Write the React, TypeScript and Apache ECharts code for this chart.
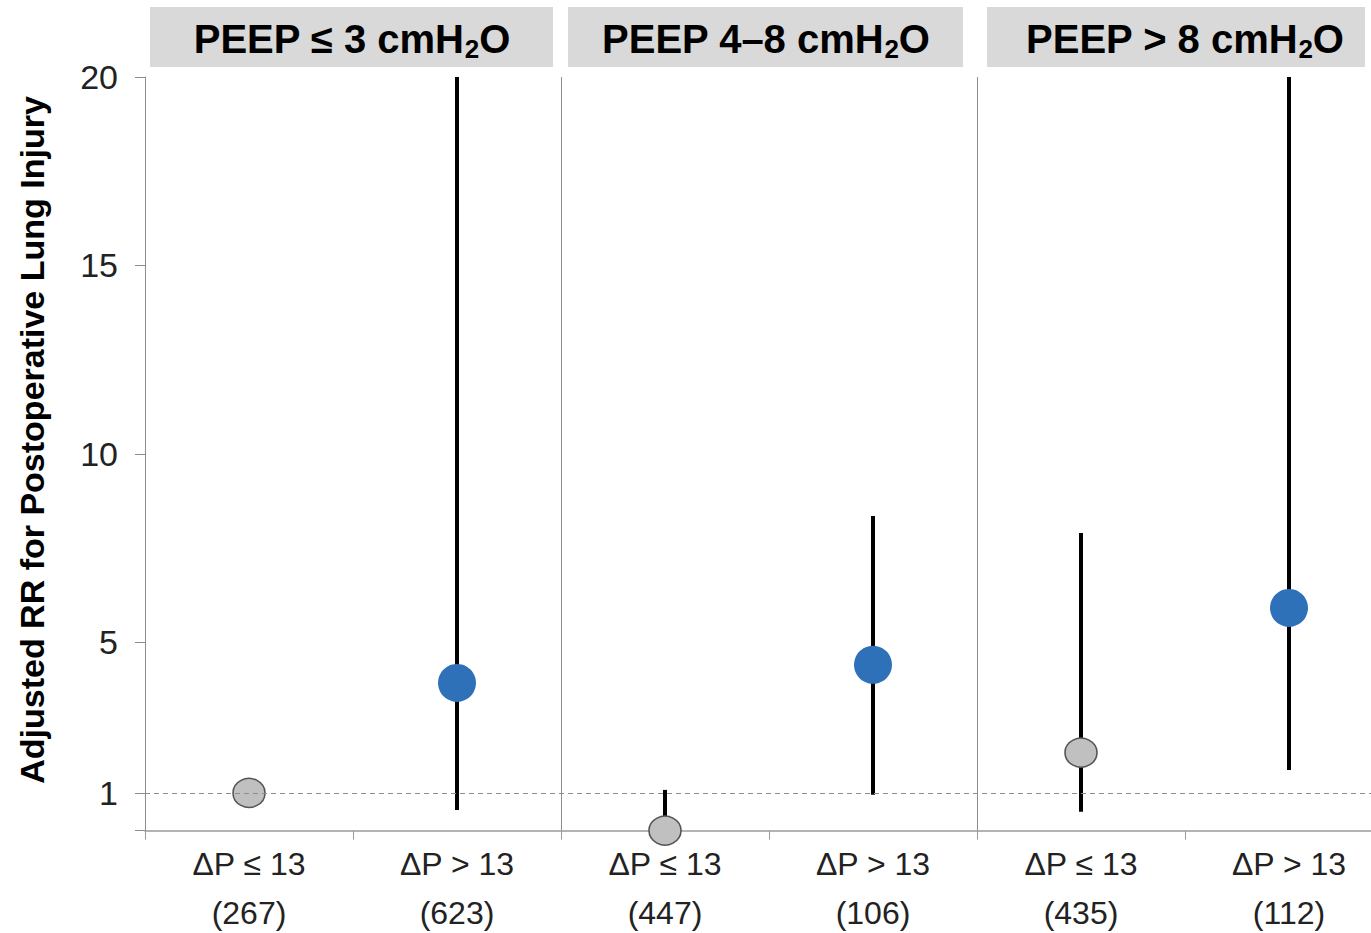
import React, { useEffect, useRef } from "react";
import * as echarts from "echarts";

const categories = ["ΔP ≤ 13", "ΔP > 13", "ΔP ≤ 13", "ΔP > 13", "ΔP ≤ 13", "ΔP > 13"];
const sampleSizes = [267, 623, 447, 106, 435, 112];
const groups = ["low", "high", "low", "high", "low", "high"];
const estimates = [1.0, 3.92, 0.0, 4.4, 2.07, 5.91];
const ciLow: (number | null)[] = [null, 0.55, 0.0, 0.95, 0.5, 1.61];
const ciHigh: (number | null)[] = [null, 20, 1.08, 8.35, 7.9, 20];
const panelPrefixes = ["PEEP ≤ 3 cmH", "PEEP 4–8 cmH", "PEEP > 8 cmH"];
const panelSub = "2";
const panelSuffix = "O";
const yTickValues = [0, 1, 5, 10, 15, 20];
const yLabelValues = [1, 5, 10, 15, 20];
const yTitle = "Adjusted RR for Postoperative Lung Injury";

const FONT = "'Liberation Sans', Arial, sans-serif";
const MAIN_SIZE = 40;
const SUB_SIZE = 26;

function measure(text: string, size: number): number {
  const c = document.createElement("canvas").getContext("2d");
  if (!c) return text.length * size * 0.6;
  c.font = `bold ${size}px ${FONT}`;
  return c.measureText(text).width;
}

export default function App() {
  const ref = useRef<HTMLDivElement>(null);

  useEffect(() => {
    if (!ref.current) return;
    const chart = echarts.init(ref.current, null, { renderer: "svg" });

    const lowData = estimates.map((v, i) => (groups[i] === "low" ? v : "-"));
    const highData = estimates.map((v, i) => (groups[i] === "high" ? v : "-"));
    const ciData = ciLow
      .map((lo, i) => (lo === null || ciHigh[i] === null ? null : [i, lo, ciHigh[i]]))
      .filter((d) => d !== null);

    const boxes = [
      { x: 150, w: 403, cx: 352 },
      { x: 568, w: 395, cx: 766 },
      { x: 987, w: 378, cx: 1185 },
    ];

    const textStyle = (text: string, size: number) => ({
      text,
      align: "left",
      verticalAlign: "middle",
      fontSize: size,
      fontWeight: "bold",
      fontFamily: FONT,
      fill: "#000",
    });

    const headerGraphics: any[] = [];
    const mid = 39;
    boxes.forEach((b, i) => {
      const w1 = measure(panelPrefixes[i], MAIN_SIZE);
      const w2 = measure(panelSub, SUB_SIZE);
      const w3 = measure(panelSuffix, MAIN_SIZE);
      const x0 = b.cx - (w1 + w2 + w3) / 2;
      headerGraphics.push({
        type: "rect",
        shape: { x: b.x, y: 7, width: b.w, height: 60 },
        style: { fill: "#d9d9d9" },
        silent: true,
      });
      headerGraphics.push({
        type: "text", x: x0, y: mid, silent: true,
        style: textStyle(panelPrefixes[i], MAIN_SIZE),
      });
      headerGraphics.push({
        type: "text", x: x0 + w1, y: mid + 10, silent: true,
        style: textStyle(panelSub, SUB_SIZE),
      });
      headerGraphics.push({
        type: "text", x: x0 + w1 + w2, y: mid, silent: true,
        style: textStyle(panelSuffix, MAIN_SIZE),
      });
    });

    chart.setOption({
      animation: false,
      backgroundColor: "#ffffff",
      grid: {
        left: 145,
        top: 77,
        right: -22,
        bottom: 102.4,
        containLabel: false,
        outerBoundsMode: "none",
      },
      xAxis: {
        type: "category",
        data: categories,
        boundaryGap: true,
        axisLine: { lineStyle: { color: "#9a9a9a", width: 1.5 } },
        axisTick: { show: true, length: 9, lineStyle: { color: "#9a9a9a", width: 1 } },
        axisLabel: {
          margin: 9,
          fontSize: 32,
          fontFamily: FONT,
          color: "#222",
          lineHeight: 49,
          interval: 0,
          formatter: (v: string, i: number) => `${v}\n(${sampleSizes[i]})`,
        },
        splitLine: {
          show: true,
          interval: (index: number) => index === 2 || index === 4,
          lineStyle: { color: "#8c8c8c", width: 1 },
        },
      },
      yAxis: {
        type: "value",
        min: 0,
        max: 20,
        interval: 5,
        axisLine: { show: true, lineStyle: { color: "#8c8c8c", width: 1 } },
        axisTick: {
          show: true,
          length: 10,
          customValues: yTickValues,
          lineStyle: { color: "#8c8c8c", width: 1 },
        },
        axisLabel: {
          margin: 27,
          fontSize: 34,
          fontFamily: FONT,
          color: "#222",
          customValues: yLabelValues,
        },
        splitLine: { show: false },
      },
      graphic: [
        ...headerGraphics,
        {
          type: "text",
          x: 32,
          y: 440,
          rotation: Math.PI / 2,
          style: {
            text: yTitle,
            align: "center",
            verticalAlign: "middle",
            fontSize: 34,
            fontWeight: "bold",
            fontFamily: FONT,
            fill: "#000",
          },
          silent: true,
        },
      ],
      series: [
        {
          type: "custom",
          name: "CI",
          data: ciData,
          encode: { x: 0, y: [1, 2] },
          z: 2,
          renderItem: (params: any, api: any) => {
            const lo = api.coord([api.value(0), api.value(1)]);
            const hi = api.coord([api.value(0), api.value(2)]);
            return {
              type: "line",
              shape: { x1: lo[0], y1: lo[1], x2: hi[0], y2: hi[1] },
              style: { stroke: "#000", lineWidth: 4 },
            };
          },
          markLine: {
            silent: true,
            symbol: "none",
            label: { show: false },
            lineStyle: { color: "#8c8c8c", type: [5, 4], width: 1 },
            data: [{ yAxis: 1 }],
          },
        },
        {
          type: "scatter",
          name: "ΔP ≤ 13",
          data: lowData,
          symbol: "circle",
          symbolSize: [32, 29],
          z: 3,
          itemStyle: { color: "#c0c0c0", borderColor: "#555", borderWidth: 1.5, opacity: 1 },
        },
        {
          type: "scatter",
          name: "ΔP > 13",
          data: highData,
          symbol: "circle",
          symbolSize: 38,
          z: 3,
          itemStyle: { color: "#2e71b8", opacity: 1 },
        },
      ],
    });

    return () => chart.dispose();
  }, []);

  return (
    <div
      ref={ref}
      style={{ position: "fixed", left: 0, top: 0, width: 1371, height: 933, background: "#fff" }}
    />
  );
}
